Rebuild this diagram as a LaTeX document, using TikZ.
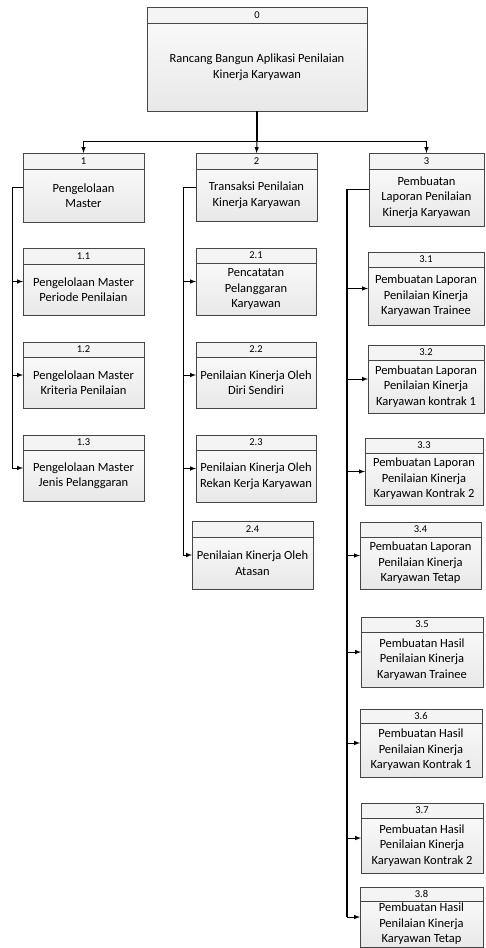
\documentclass[tikz,border=0pt]{standalone}
\usepackage{fontspec}
\setmainfont{Carlito}
\usepackage{tikz}

\tikzset{
    kepala/.style={draw=gray!55!black, fill=gray!9, line width=0.7pt, inner sep=0pt, outer sep=0pt,
        anchor=north west, font=\fontsize{10.5}{12}\selectfont},
    isi/.style={draw=gray!55!black, top color=gray!5, bottom color=gray!18, line width=0.7pt,
        inner sep=1pt, outer sep=0pt, anchor=north west, align=center, font=\fontsize{12.5}{15.5}\selectfont},
    garis/.style={line width=1pt},
    garistebal/.style={line width=1.6pt},
    panah/.style={line width=1pt, -latex},
}

% #1 name, #2 left, #3 right, #4 top, #5 divider, #6 bottom, #7 number, #8 text
\newcommand{\kotak}[8]{%
    \node[kepala, minimum width={(#3-#2)*1pt}, minimum height={(#5-#4)*1pt}] (h#1) at (#2,#4) {#7};
    \node[isi, minimum width={(#3-#2)*1pt}, minimum height={(#6-#5)*1pt}] (b#1) at (#2,#5) {#8};
    \coordinate (m#1) at (#2,{(#4+#6)/2});
}

\begin{document}
\begin{tikzpicture}[x=1pt, y=-1pt]
    \useasboundingbox (0,0) rectangle (485,948);

    \kotak{0}{147}{367}{7}{23}{111}{0}{Rancang Bangun Aplikasi Penilaian\\Kinerja Karyawan}

    \kotak{1}{23}{144}{153}{169}{222}{1}{Pengelolaan\\Master}
    \kotak{11}{23}{144}{248}{264}{315}{1.1}{Pengelolaan Master\\Periode Penilaian}
    \kotak{12}{23}{144}{342}{357}{408}{1.2}{Pengelolaan Master\\Kriteria Penilaian}
    \kotak{13}{23}{144}{435}{450}{501}{1.3}{Pengelolaan Master\\Jenis Pelanggaran}

    \kotak{2}{196}{317}{153}{169}{221}{2}{Transaksi Penilaian\\Kinerja Karyawan}
    \kotak{21}{196}{316}{248}{263}{315}{2.1}{Pencatatan\\Pelanggaran\\Karyawan}
    \kotak{22}{196}{316}{342}{357}{408}{2.2}{Penilaian Kinerja Oleh\\Diri Sendiri}
    \kotak{23}{196}{316}{435}{450}{502}{2.3}{Penilaian Kinerja Oleh\\Rekan Kerja Karyawan}
    \kotak{24}{192}{313}{521}{537}{589}{2.4}{Penilaian Kinerja Oleh\\Atasan}

    \kotak{3}{369}{484}{153}{169}{226}{3}{Pembuatan\\Laporan Penilaian\\Kinerja Karyawan}
    \kotak{31}{368}{484}{252}{267}{325}{3.1}{Pembuatan Laporan\\Penilaian Kinerja\\Karyawan Trainee}
    \kotak{32}{368}{484}{345}{360}{413}{3.2}{Pembuatan Laporan\\Penilaian Kinerja\\Karyawan kontrak 1}
    \kotak{33}{365}{483}{438}{453}{505}{3.3}{Pembuatan Laporan\\Penilaian Kinerja\\Karyawan Kontrak 2}
    \kotak{34}{360}{481}{522}{537}{589}{3.4}{Pembuatan Laporan\\Penilaian Kinerja\\Karyawan Tetap}
    \kotak{35}{361}{483}{617}{632}{687}{3.5}{Pembuatan Hasil\\Penilaian Kinerja\\Karyawan Trainee}
    \kotak{36}{360}{482}{709}{723}{777}{3.6}{Pembuatan Hasil\\Penilaian Kinerja\\Karyawan Kontrak 1}
    \kotak{37}{361}{483}{803}{818}{873}{3.7}{Pembuatan Hasil\\Penilaian Kinerja\\Karyawan Kontrak 2}
    \kotak{38}{360}{483}{887}{901}{947}{3.8}{Pembuatan Hasil\\Penilaian Kinerja\\Karyawan Tetap}

    \coordinate (bus) at (257,141);
    \coordinate (rel1) at (12,0);
    \coordinate (rel2) at (183,0);
    \coordinate (rel3) at (347,0);

    \draw[garistebal] (b0.south) -- (bus);
    \draw[panah] (bus) -- (h2.north);
    \draw[panah] (bus) -| (h1.north);
    \draw[panah] (bus) -| (h3.north);

    \draw[garis] (m1) -| (rel1 |- m13);
    \foreach \i in {11,12,13}
        \draw[panah] (rel1 |- m\i) -- (m\i);

    \draw[garis] (m2) -| (rel2 |- m24);
    \foreach \i in {21,22,23,24}
        \draw[panah] (rel2 |- m\i) -- (m\i);

    \draw[garistebal] (m3) -| (rel3 |- m38);
    \foreach \i in {31,32,33,34,35,36,37,38}
        \draw[panah] (rel3 |- m\i) -- (m\i);

\end{tikzpicture}
\end{document}
